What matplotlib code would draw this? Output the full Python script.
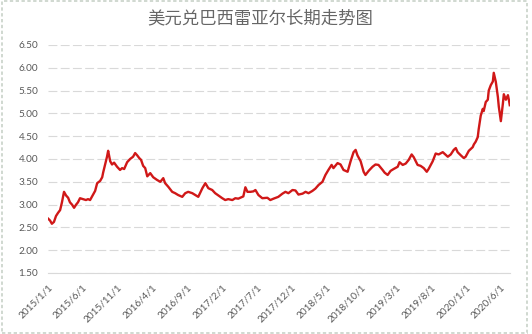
import matplotlib
matplotlib.use("Agg")
import matplotlib.pyplot as plt
from matplotlib.patches import Rectangle
import pandas as pd

plt.rcParams['font.family'] = ['Noto Sans CJK SC', 'DejaVu Sans']

title = "美元兑巴西雷亚尔长期走势图"

dates = [
    "2015-01-02", "2015-01-10", "2015-01-18", "2015-01-27", "2015-02-05", "2015-02-14", "2015-02-23",
    "2015-03-03", "2015-03-12", "2015-03-21", "2015-03-30", "2015-04-07", "2015-04-16", "2015-04-25",
    "2015-05-04", "2015-05-12", "2015-05-21", "2015-06-03", "2015-06-16", "2015-06-25", "2015-07-04",
    "2015-07-17", "2015-07-26", "2015-08-04", "2015-08-17", "2015-08-26", "2015-08-30", "2015-09-08",
    "2015-09-16", "2015-09-21", "2015-09-30", "2015-10-08", "2015-10-17", "2015-10-30", "2015-11-12",
    "2015-11-21", "2015-11-30", "2015-12-13", "2015-12-26", "2016-01-08", "2016-01-17", "2016-01-26",
    "2016-02-04", "2016-02-12", "2016-02-21", "2016-03-01", "2016-03-10", "2016-03-23", "2016-04-05",
    "2016-04-22", "2016-05-06", "2016-05-19", "2016-05-27", "2016-06-10", "2016-06-27", "2016-07-10",
    "2016-07-23", "2016-08-10", "2016-08-23", "2016-09-05", "2016-09-23", "2016-10-06", "2016-10-19",
    "2016-11-06", "2016-11-19", "2016-12-02", "2016-12-19", "2017-01-01", "2017-01-15", "2017-02-01",
    "2017-02-14", "2017-02-27", "2017-03-17", "2017-03-30", "2017-04-12", "2017-04-30", "2017-05-04",
    "2017-05-13", "2017-05-22", "2017-06-04", "2017-06-17", "2017-06-26", "2017-07-09", "2017-07-26",
    "2017-08-17", "2017-08-30", "2017-09-13", "2017-10-04", "2017-10-22", "2017-11-04", "2017-11-17",
    "2017-12-05", "2017-12-18", "2017-12-31", "2018-01-18", "2018-01-31", "2018-02-13", "2018-03-02",
    "2018-03-15", "2018-03-29", "2018-04-15", "2018-04-28", "2018-05-11", "2018-05-25", "2018-06-02",
    "2018-06-20", "2018-07-03", "2018-07-16", "2018-08-03", "2018-08-16", "2018-08-29", "2018-09-07",
    "2018-09-15", "2018-09-29", "2018-10-12", "2018-10-20", "2018-11-03", "2018-11-20", "2018-12-03",
    "2018-12-16", "2019-01-03", "2019-01-12", "2019-01-25", "2019-02-07", "2019-02-20", "2019-03-10",
    "2019-03-18", "2019-04-01", "2019-04-14", "2019-04-27", "2019-05-10", "2019-05-19", "2019-06-05",
    "2019-06-18", "2019-07-02", "2019-07-15", "2019-07-23", "2019-08-10", "2019-08-23", "2019-09-05",
    "2019-09-23", "2019-10-06", "2019-10-15", "2019-10-28", "2019-11-10", "2019-11-19", "2019-11-27",
    "2019-12-11", "2019-12-24", "2020-01-01", "2020-01-15", "2020-02-01", "2020-02-06", "2020-02-14",
    "2020-02-23", "2020-02-27", "2020-03-07", "2020-03-16", "2020-03-20", "2020-03-29", "2020-04-07",
    "2020-04-11", "2020-04-20", "2020-04-29", "2020-05-03", "2020-05-12", "2020-05-21", "2020-05-25",
    "2020-06-03", "2020-06-12", "2020-06-16", "2020-06-25", "2020-07-04", "2020-07-08", "2020-07-12",
]

rates = [
    2.69, 2.65, 2.58, 2.62, 2.75, 2.82, 2.88,
    3.05, 3.28, 3.20, 3.15, 3.05, 3.00, 2.93,
    3.00, 3.05, 3.14, 3.12, 3.10, 3.12, 3.10,
    3.22, 3.30, 3.47, 3.52, 3.60, 3.70, 3.88,
    4.05, 4.18, 3.95, 3.88, 3.92, 3.83, 3.76,
    3.80, 3.78, 3.93, 4.00, 4.05, 4.13, 4.08,
    4.02, 3.98, 3.85, 3.80, 3.62, 3.69, 3.60,
    3.54, 3.50, 3.58, 3.47, 3.39, 3.28, 3.25,
    3.21, 3.17, 3.25, 3.28, 3.25, 3.21, 3.17,
    3.36, 3.47, 3.36, 3.32, 3.25, 3.20, 3.14,
    3.10, 3.12, 3.10, 3.14, 3.13, 3.17, 3.18,
    3.38, 3.28, 3.28, 3.29, 3.32, 3.21, 3.14,
    3.15, 3.10, 3.13, 3.17, 3.24, 3.28, 3.25,
    3.32, 3.31, 3.22, 3.24, 3.28, 3.25, 3.30,
    3.35, 3.43, 3.50, 3.65, 3.76, 3.87, 3.80,
    3.91, 3.88, 3.76, 3.72, 3.95, 4.15, 4.20,
    4.08, 3.95, 3.72, 3.65, 3.74, 3.83, 3.88,
    3.87, 3.76, 3.70, 3.65, 3.74, 3.78, 3.83,
    3.93, 3.87, 3.90, 3.98, 4.10, 4.04, 3.87,
    3.85, 3.80, 3.72, 3.78, 3.95, 4.12, 4.10,
    4.15, 4.09, 4.05, 4.10, 4.20, 4.24, 4.15,
    4.08, 4.02, 4.05, 4.18, 4.26, 4.32, 4.38,
    4.48, 4.65, 4.95, 5.10, 5.05, 5.25, 5.30,
    5.50, 5.62, 5.70, 5.89, 5.69, 5.36, 5.15,
    4.83, 5.22, 5.42, 5.30, 5.40, 5.30, 5.18,
]

tick_dates = ["2015-01-01", "2015-06-01", "2015-11-01", "2016-04-01", "2016-09-01",
              "2017-02-01", "2017-07-01", "2017-12-01", "2018-05-01", "2018-10-01",
              "2019-03-01", "2019-08-01", "2020-01-01", "2020-06-01"]
tick_labels = ["2015/1/1", "2015/6/1", "2015/11/1", "2016/4/1", "2016/9/1",
               "2017/2/1", "2017/7/1", "2017/12/1", "2018/5/1", "2018/10/1",
               "2019/3/1", "2019/8/1", "2020/1/1", "2020/6/1"]
y_ticks = [1.5, 2.0, 2.5, 3.0, 3.5, 4.0, 4.5, 5.0, 5.5, 6.0, 6.5]

W, H = 532, 334
fig = plt.figure(figsize=(W / 100, H / 100), dpi=100)
fig.patch.set_facecolor("white")
ax = fig.add_axes([48 / W, 1 - 273 / H, (510 - 48) / W, (273 - 45) / H])

x = pd.to_datetime(dates)
ax.plot(x, rates, color="#D01818", lw=1.7, solid_joinstyle="round")

ax.set_ylim(1.5, 6.5)
ax.set_xlim(pd.Timestamp("2015-01-01"), pd.Timestamp("2020-07-13"))
ax.set_yticks(y_ticks)
ax.set_yticklabels([f"{v:.2f}" for v in y_ticks])
ax.set_xticks(pd.to_datetime(tick_dates))
ax.set_xticklabels(tick_labels, rotation=45, ha="right", va="top", rotation_mode="anchor")

for s in ["top", "right", "left"]:
    ax.spines[s].set_visible(False)
ax.spines["bottom"].set_color("#D9D9D9")
ax.spines["bottom"].set_linewidth(0.8)

ax.grid(axis="y", color="#D9D9D9", lw=0.8, ls=(0, (8, 3)))
ax.grid(axis="x", visible=False)
ax.set_axisbelow(True)
ax.tick_params(axis="both", length=0, colors="#595959", labelsize=7.2,
               labelfontfamily="Lato")
ax.tick_params(axis="y", pad=7)
ax.tick_params(axis="x", pad=7)

fig.text(260 / W, 1 - 18 / H, title, ha="center", va="center", fontsize=12.5,
         color="#666666", fontweight="light")

fig.patches.append(Rectangle((0.003, 0.004), 0.988, 0.992, transform=fig.transFigure,
                             fill=False, ec="#C8D2C8", lw=1.2, ls=(0, (2, 1.5))))

fig.savefig("out.png", dpi=100)
